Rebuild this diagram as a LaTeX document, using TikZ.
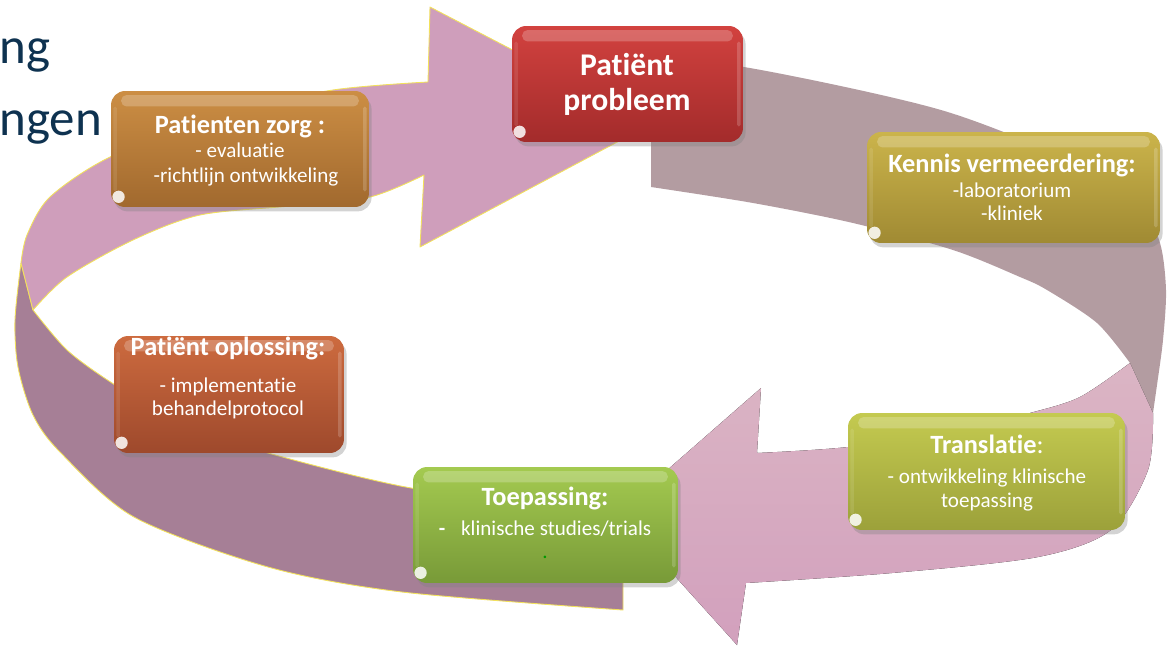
\documentclass[tikz,border=0pt]{standalone}
\usepackage{fontspec}
\setmainfont{Carlito}[Ligatures=NoCommon]
\usetikzlibrary{shadows}

\definecolor{ribbonfront}{HTML}{CF9EBB}
\definecolor{ribbonback}{HTML}{A67F96}
\definecolor{ribbongrey}{HTML}{B39CA1}
\definecolor{ribbonlight}{HTML}{DBB5C4}
\definecolor{ribbonrose}{HTML}{D2A0BD}
\definecolor{ribbonedge}{HTML}{F2E15C}
\definecolor{titlenavy}{HTML}{0E3250}
\definecolor{zorgtop}{HTML}{CC8E44}
\definecolor{zorgbot}{HTML}{A1692E}
\definecolor{probtop}{HTML}{D2423F}
\definecolor{probbot}{HTML}{A32B2B}
\definecolor{kennistop}{HTML}{CBB44B}
\definecolor{kennisbot}{HTML}{A08A33}
\definecolor{transtop}{HTML}{C4CA50}
\definecolor{transbot}{HTML}{9CA13A}
\definecolor{toeptop}{HTML}{A4CA50}
\definecolor{toepbot}{HTML}{789A38}
\definecolor{oplostop}{HTML}{CD6B3F}
\definecolor{oplosbot}{HTML}{9E492C}

\newcommand\headfont{\fontsize{15}{18}\selectfont\bfseries}
\newcommand\bodyfont{\fontsize{12}{14}\selectfont}
\newcommand\bigfont{\fontsize{18}{21}\selectfont\bfseries}

% glossy highlights on a box: top strip, side rims, corner spot
\newcommand\boxshine[1]{
  \fill[white, opacity=0.22, rounded corners=3pt]
    ([xshift=6pt,yshift=-2.5pt]#1.north west) rectangle ([xshift=-6pt,yshift=-9pt]#1.north east);
  \fill[white, opacity=0.18, rounded corners=1pt]
    ([xshift=-3.5pt,yshift=-9pt]#1.north east) rectangle ([xshift=-1.5pt,yshift=9pt]#1.south east);
  \fill[white, opacity=0.1, rounded corners=1pt]
    ([xshift=1.5pt,yshift=-9pt]#1.north west) rectangle ([xshift=3.5pt,yshift=9pt]#1.south west);
  \fill[white, opacity=0.85] ([xshift=4.5pt,yshift=6pt]#1.south west) circle (3.5pt);
}

\tikzset{
  stage/.style={rectangle, rounded corners=8pt, inner sep=0pt,
    drop shadow={opacity=0.35, shadow xshift=1.5pt, shadow yshift=-2.5pt}},
  txt/.style={anchor=base, inner sep=0pt, text=white},
  band/.style={draw=ribbonedge, line width=0.5pt, line join=round},
}

\begin{document}
\begin{tikzpicture}[x=0.02cm, y=-0.02cm]
  \useasboundingbox (0,0) rectangle (1171,646);

  % Heading, cut off at the left
  \node[anchor=base west, inner sep=0pt, text=titlenavy, font=\fontsize{29}{32}\selectfont] (kop-1) at (-1,63) {ng};
  \node[anchor=base west, inner sep=0pt, text=titlenavy, font=\fontsize{29}{32}\selectfont] (kop-2) at (-1,135) {ngen};

  % Ribbon: back side at the lower left
  \fill[ribbonback, band] (21,263) -- plot[smooth] coordinates {(21,263) (15,320) (18,367) (33,415) (60,452) (134,517) (268,567) (402,592) (623,610)}
    -- (623,512) -- plot[smooth] coordinates {(623,512) (560,505) (411,488) (268,453) (180,424) (112,383) (67,350) (33,310)} -- cycle;

  % Ribbon: front side with arrow head towards the problem
  \fill[ribbonfront, band] plot[smooth] coordinates {(21,263) (27,235) (50,197) (110,157) (220,114) (333,90) (428,82)}
    -- (430,7) -- (653,123) -- (420,247) -- (424,175)
    -- plot[smooth] coordinates {(424,175) (370,197) (290,206) (200,215) (133,240) (67,277) (33,310)} -- cycle;

  % Ribbon: back side on the right
  \fill[ribbongrey] (651,62) -- plot[smooth] coordinates {(651,62) (744,67) (941,110) (1080,165) (1140,205) (1160,243) (1166,290) (1163,340) (1157,385) (1153,413)}
    -- (1130,363) -- plot[smooth] coordinates {(1130,363) (1097,323) (1047,290) (1020,277) (953,250) (853,223) (753,203) (651,187)} -- cycle;

  % Ribbon: front side with arrow head towards the application
  \fill[top color=ribbonlight, bottom color=ribbonrose] (1130,363) -- (1153,413)
    -- plot[smooth] coordinates {(1153,413) (1148,470) (1111,530) (1038,557) (892,573) (746,583)}
    -- (737,645) -- (618,513) -- (761,388) -- (757,453)
    -- plot[smooth] coordinates {(757,453) (848,447) (960,430) (1030,413) (1080,397) (1130,363)} -- cycle;

  % Boxes
  \node[stage, minimum width=5.16cm, minimum height=2.32cm, top color=zorgtop, bottom color=zorgbot] (zorg) at (240,149) {};
  \node[stage, minimum width=4.62cm, minimum height=2.32cm, top color=probtop, bottom color=probbot] (probleem) at (627.5,84) {};
  \node[stage, minimum width=5.86cm, minimum height=2.22cm, top color=kennistop, bottom color=kennisbot] (kennis) at (1013.5,187.5) {};
  \node[stage, minimum width=5.54cm, minimum height=2.34cm, top color=transtop, bottom color=transbot] (translatie) at (986.5,471.5) {};
  \node[stage, minimum width=5.30cm, minimum height=2.32cm, top color=toeptop, bottom color=toepbot] (toepassing) at (545.5,525) {};
  \node[stage, minimum width=4.60cm, minimum height=2.34cm, top color=oplostop, bottom color=oplosbot] (oplossing) at (229,394.5) {};
  \foreach \b in {zorg,probleem,kennis,translatie,toepassing,oplossing} {\boxshine{\b}}

  % Texts in the boxes
  \node[txt, font=\headfont] (zorg-t) at (240,133) {Patienten zorg :};
  \node[txt, font=\bodyfont] (zorg-1) at (240,157) {- evaluatie};
  \node[txt, font=\bodyfont] (zorg-2) at (246,182) {-richtlijn ontwikkeling};

  \node[txt, font=\bigfont] (probleem-1) at (627,75) {Patiënt};
  \node[txt, font=\bigfont] (probleem-2) at (627,110) {probleem};

  \node[txt, font=\headfont] (kennis-t) at (1012,172) {Kennis vermeerdering:};
  \node[txt, font=\bodyfont] (kennis-1) at (1012,197) {-laboratorium};
  \node[txt, font=\bodyfont] (kennis-2) at (1012,220) {-kliniek};

  \node[txt, font=\headfont] (translatie-t) at (987,453) {Translatie\mdseries:};
  \node[txt, font=\bodyfont] (translatie-1) at (987,483) {- ontwikkeling klinische};
  \node[txt, font=\bodyfont] (translatie-2) at (987,507) {toepassing};

  \node[txt, font=\headfont] (toepassing-t) at (545,505) {Toepassing:};
  \node[txt, font=\bodyfont] (toepassing-1) at (545,535) {{\bfseries -}\hspace{9pt}klinische studies/trials};
  \node[txt, font=\bodyfont, text=green!60!black] (toepassing-2) at (545,558) {.};

  \node[txt, font=\headfont] (oplossing-t) at (228,355) {Patiënt oplossing:};
  \node[txt, font=\bodyfont] (oplossing-1) at (228,392) {- implementatie};
  \node[txt, font=\bodyfont] (oplossing-2) at (228,415) {behandelprotocol};
\end{tikzpicture}
\end{document}
